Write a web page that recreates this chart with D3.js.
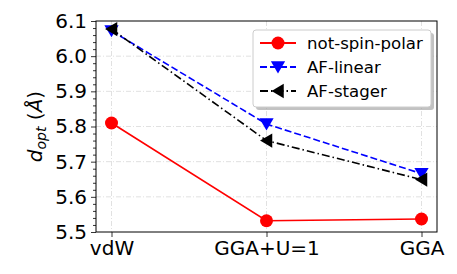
<!DOCTYPE html>
<html>
<head>
<meta charset="utf-8">
<script src="https://cdn.jsdelivr.net/npm/d3@7"></script>
<style>
  body { margin: 0; background: #fff; }
  text { font-family: "DejaVu Sans", sans-serif; fill: #000; }
</style>
</head>
<body>
<script>
// data
const methods = ["vdW", "GGA+U=1", "GGA"];
const notSpinPolar = [5.81, 5.532, 5.537];
const afLinear = [6.072, 5.807, 5.666];
const afStager = [6.077, 5.76, 5.649];
const yTicks = [5.5, 5.6, 5.7, 5.8, 5.9, 6.0, 6.1];

const W = 457, H = 274;
const margin = { top: 21, right: 20, bottom: 42, left: 96 };
const width = W - margin.left - margin.right;
const height = H - margin.top - margin.bottom;

const series = [
  { name: "not-spin-polar", values: notSpinPolar, color: "#ff0000", dash: null, marker: "circle" },
  { name: "AF-linear", values: afLinear, color: "#0000ff", dash: "7,3", marker: "tridown" },
  { name: "AF-stager", values: afStager, color: "#000000", dash: "8,3,1.5,3", marker: "trileft" }
];

const svg = d3.select("body").append("svg")
  .attr("width", W).attr("height", H);

const g = svg.append("g")
  .attr("transform", `translate(${margin.left},${margin.top})`);

const x = d3.scalePoint().domain(methods).range([0, width]).padding(0.1);
const y = d3.scaleLinear().domain([5.5, 6.1]).range([height, 0]);

// grid
const gridStyle = (sel) => sel.attr("stroke", "#d9d9d9").attr("stroke-width", 0.8)
  .attr("stroke-dasharray", "5,2,1,2");
g.append("g").selectAll("line").data(yTicks.slice(1, -1)).join("line")
  .attr("x1", 0).attr("x2", width)
  .attr("y1", d => y(d)).attr("y2", d => y(d))
  .call(gridStyle);
g.append("g").selectAll("line").data(methods).join("line")
  .attr("x1", d => x(d)).attr("x2", d => x(d))
  .attr("y1", 0).attr("y2", height)
  .call(gridStyle);

// markers
function marker(sel, type, color, size) {
  if (type === "circle") {
    sel.append("circle").attr("r", size * 0.5).attr("fill", color);
  } else {
    const s = size * 0.55;
    const pts = type === "tridown"
      ? [[-s, -s * 0.8], [s, -s * 0.8], [0, s * 0.9]]
      : [[-s * 0.9, 0], [s * 0.8, -s], [s * 0.8, s]];
    sel.append("path").attr("d", "M" + pts.join("L") + "Z").attr("fill", color);
  }
}

const line = d3.line().x((d, i) => x(methods[i])).y(d => y(d));

series.forEach(s => {
  g.append("path").datum(s.values)
    .attr("d", line)
    .attr("fill", "none")
    .attr("stroke", s.color)
    .attr("stroke-width", 1.6)
    .attr("stroke-dasharray", s.dash);
  s.values.forEach((v, i) => {
    const m = g.append("g").attr("transform", `translate(${x(methods[i])},${y(v)})`);
    marker(m, s.marker, s.color, 13);
  });
});

// axes
const yAxis = d3.axisLeft(y).tickValues(yTicks).tickFormat(d3.format(".1f"))
  .tickSize(5).tickPadding(4);
const yMinor = d3.axisLeft(y).tickValues(d3.range(5.52, 6.1, 0.02).filter(v => Math.abs(v * 10 - Math.round(v * 10)) > 0.01))
  .tickSize(3).tickFormat("");
const xAxis = d3.axisBottom(x).tickSize(5).tickPadding(4);

const ya = g.append("g").call(yAxis);
g.append("g").call(yMinor).select(".domain").remove();
const xa = g.append("g").attr("transform", `translate(0,${height})`).call(xAxis);
[ya, xa].forEach(a => {
  a.selectAll("text").attr("font-size", 20).attr("font-family", "DejaVu Sans");
  a.select(".domain").remove();
});
g.selectAll(".tick line").attr("stroke", "#000").attr("stroke-width", 0.8);

// frame
g.append("rect").attr("width", width).attr("height", height)
  .attr("fill", "none").attr("stroke", "#000").attr("stroke-width", 1);

// y label
const yl = svg.append("text")
  .attr("transform", `translate(42,${margin.top + height / 2}) rotate(-90)`)
  .attr("text-anchor", "middle").attr("font-size", 20);
yl.append("tspan").attr("font-style", "italic").text("d");
yl.append("tspan").attr("font-style", "italic").attr("font-size", 14).attr("dy", 4).text("opt");
yl.append("tspan").attr("dy", -4).text(" (");
yl.append("tspan").attr("font-style", "italic").text("Å");
yl.append("tspan").text(")");

// legend
const lg = svg.append("g").attr("transform", "translate(253,30)");
lg.append("rect").attr("x", 3).attr("y", 3).attr("width", 178).attr("height", 77)
  .attr("rx", 3).attr("fill", "#999").attr("opacity", 0.6);
lg.append("rect").attr("width", 178).attr("height", 77).attr("rx", 3)
  .attr("fill", "#fff").attr("stroke", "#ccc").attr("stroke-width", 1);
series.forEach((s, i) => {
  const row = lg.append("g").attr("transform", `translate(0,${13 + i * 24})`);
  row.append("line").attr("x1", 7).attr("x2", 43)
    .attr("stroke", s.color).attr("stroke-width", 1.8).attr("stroke-dasharray", s.dash);
  const m = row.append("g").attr("transform", "translate(25,0)");
  marker(m, s.marker, s.color, 13);
  row.append("text").attr("x", 54).attr("dy", "0.35em").attr("font-size", 16.6).text(s.name);
});
</script>
</body>
</html>
